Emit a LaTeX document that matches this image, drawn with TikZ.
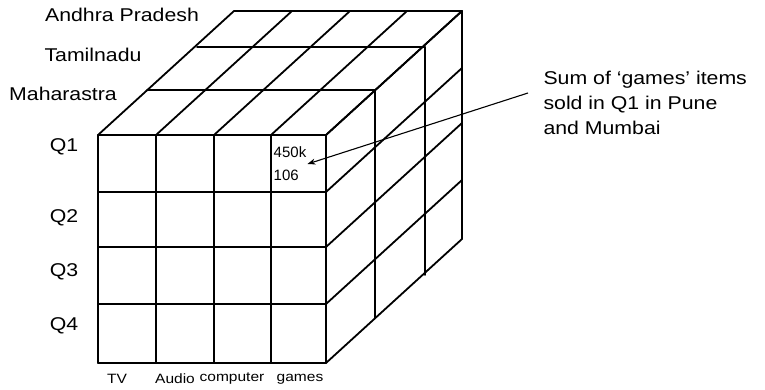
\documentclass[tikz,border=0pt]{standalone}
\usepackage{fontspec}
\setmainfont[FakeStretch=1.15]{Liberation Sans}
\newfontfamily\cellfont{Liberation Sans}
\usetikzlibrary{arrows.meta}

\tikzset{
    cubeline/.style={line width=1.8pt, line cap=round, line join=round},
    dimlabel/.style={font=\fontsize{18.5}{22}\selectfont},
    itemlabel/.style={font=\fontsize{13.5}{16}\selectfont},
}

\begin{document}
\begin{tikzpicture}[x=1pt, y=-1pt]
                    \useasboundingbox (0,0) rectangle (765,390);
                    % Front face: quarters by items
                    \foreach \x in {98,156,214,271,326}
                        \draw[cubeline] (\x,135) -- (\x,363);
                    \foreach \y in {135,192,247,304,363}
                        \draw[cubeline] (98,\y) -- (326,\y);
                    % Top face: states
                    \foreach \x in {98,156,214,271,326}
                        \draw[cubeline] (\x,135) -- ++(136,-124);
                    \foreach \dx/\dy in {49/45,99/88,136/124}
                        \draw[cubeline] (98+\dx,135-\dy) -- (326+\dx,135-\dy);
                    % Right face
                    \foreach \y in {135,192,247,304,363}
                        \draw[cubeline] (326,\y) -- ++(136,-124);
                    \foreach \dx/\dy in {49/45,99/88,136/124}
                        \draw[cubeline] (326+\dx,135-\dy) -- (326+\dx,363-\dy);

                    \node[dimlabel] (andhra) at (122,15) {Andhra Pradesh};
                    \node[dimlabel] (tamil) at (93,55) {Tamilnadu};
                    \node[dimlabel] (maha) at (63,94) {Maharastra};
                    \node[dimlabel] (qone) at (64,147) {Q1};
                    \node[dimlabel] (qtwo) at (64,218) {Q2};
                    \node[dimlabel] (qthree) at (64,272) {Q3};
                    \node[dimlabel] (qfour) at (64,326) {Q4};
                    \node[itemlabel] (tv) at (117,379) {TV};
                    \node[itemlabel] (audio) at (175,379) {Audio};
                    \node[itemlabel] (computer) at (232,379) {computer};
                    \node[itemlabel] (games) at (300,379) {games};

                    \node[align=left, inner sep=1pt, font={\cellfont\fontsize{15}{23}\selectfont}] (cell) at (290,164) {450k\\106};
                    \node[align=left, anchor=west, font={\fontsize{18.5}{25}\selectfont}] (note) at (540,103) {Sum of ‘games’ items\\sold in Q1 in Pune\\and Mumbai};
                    \draw[line width=1.1pt, -{Stealth[length=8pt, width=6pt]}] ([shift={(-12,-10)}]note.west) -- (cell.east);
                \end{tikzpicture}
\end{document}
